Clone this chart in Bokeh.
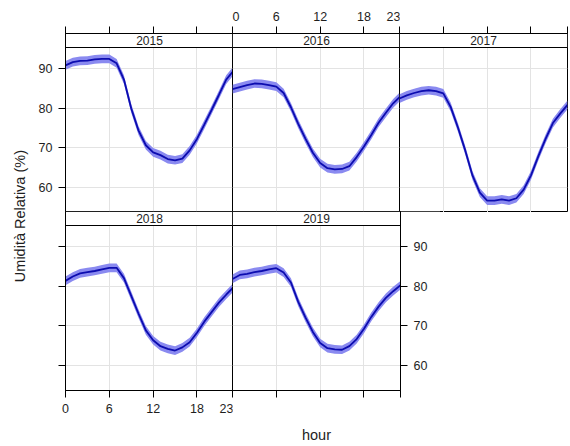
import math

from bokeh.core.properties import value
from bokeh.embed import file_html
from bokeh.layouts import column, row
from bokeh.models import FixedTicker, LinearAxis, Range1d
from bokeh.plotting import figure
from bokeh.resources import INLINE

# Mean relative humidity by hour of day, one panel per year
hours = list(range(24))
years = ["2015", "2016", "2017", "2018", "2019"]

rh_2015 = [90.8, 91.6, 91.9, 92.0, 92.3, 92.4, 92.4, 91.3, 87.2, 79.9, 74.3, 70.6,
           68.8, 68.1, 67.1, 66.8, 67.2, 69.3, 72.2, 75.8, 79.5, 83.3, 87.2, 89.4]
rh_2016 = [84.8, 85.3, 85.8, 86.2, 86.1, 85.8, 85.4, 83.8, 80.2, 76.0, 72.2, 68.7,
           66.1, 64.8, 64.5, 64.6, 65.3, 67.6, 70.3, 73.2, 76.3, 78.8, 81.2, 83.0]
rh_2017 = [82.4, 83.2, 83.8, 84.3, 84.5, 84.3, 83.7, 80.3, 75.1, 69.3, 62.9, 58.6,
           56.6, 56.6, 56.9, 56.6, 57.2, 59.4, 63.0, 67.8, 72.2, 76.2, 78.6, 80.8]
rh_2018 = [81.3, 82.4, 83.2, 83.5, 83.8, 84.2, 84.6, 84.6, 82.0, 77.5, 73.0, 68.8,
           66.3, 64.8, 64.1, 63.7, 64.5, 65.8, 68.2, 71.0, 73.4, 75.8, 77.8, 79.7]
rh_2019 = [81.8, 82.8, 83.1, 83.5, 83.8, 84.2, 84.5, 83.4, 80.9, 76.0, 72.0, 68.4,
           65.6, 64.3, 64.0, 63.9, 64.8, 66.6, 69.2, 72.2, 74.8, 77.0, 78.7, 80.2]

# half width of the confidence band around each mean
band_halfwidth = 1.1

x_ticks = [0, 6, 12, 18, 23]
y_ticks = [60, 70, 80, 90]

FONT = "Liberation Sans"
LINE_COLOR = "#0c0caf"
BAND_COLOR = "#8a8af0"
GRID_COLOR = "#e3e3e3"
TEXT_COLOR = "#1e1e1e"

FRAME_W, FRAME_H = 168, 179
STRIP_PX = 14
Y_LO, Y_HI = 53.6, 95.3
Y_TOP = Y_HI + (Y_HI - Y_LO) * STRIP_PX / (FRAME_H - STRIP_PX)
X_LO, X_HI = 0, 23


def add_axis(p, side, ticks, show_labels, label=None, label_standoff=0):
    if show_labels:
        ax = LinearAxis(ticker=FixedTicker(ticks=ticks))
    else:
        # tick marks only: the positions go in as minor ticks, so no labels are drawn
        ax = LinearAxis(ticker=FixedTicker(ticks=[], minor_ticks=ticks))
    ax.major_tick_out = 7
    ax.major_tick_in = 0
    ax.minor_tick_out = 7 if not show_labels else 0
    ax.minor_tick_in = 0
    ax.axis_line_color = "black"
    ax.major_tick_line_color = "black"
    ax.minor_tick_line_color = "black"
    ax.major_label_text_font = FONT
    ax.major_label_text_color = TEXT_COLOR
    ax.major_label_text_font_size = "12.5px"
    ax.major_label_standoff = 6
    if label is not None:
        ax.axis_label = label
        ax.axis_label_text_font = FONT
        ax.axis_label_text_font_size = "14.5px"
        ax.axis_label_text_font_style = "normal"
        ax.axis_label_text_color = TEXT_COLOR
        ax.axis_label_standoff = label_standoff
    p.add_layout(ax, side)
    return ax


def panel(year, values, left=0, right=0, top=0, bottom=0, margin=(0, 0, 0, 0)):
    p = figure(frame_width=FRAME_W, frame_height=FRAME_H,
               x_range=Range1d(X_LO, X_HI), y_range=Range1d(Y_LO, Y_TOP),
               x_axis_location=None, y_axis_location=None,
               toolbar_location=None, output_backend="svg",
               min_border_left=left, min_border_right=right,
               min_border_top=top, min_border_bottom=bottom,
               margin=margin)
    p.outline_line_color = "black"
    p.outline_line_alpha = 1.0
    p.background_fill_color = "white"
    p.border_fill_color = "white"
    p.xgrid.ticker = FixedTicker(ticks=[6, 12, 18])
    p.ygrid.ticker = FixedTicker(ticks=y_ticks)
    p.grid.grid_line_color = GRID_COLOR
    p.grid.grid_line_width = 1

    lower = [v - band_halfwidth for v in values]
    upper = [v + band_halfwidth for v in values]
    p.varea(x=hours, y1=lower, y2=upper, fill_color=BAND_COLOR, fill_alpha=1.0)
    p.line(hours, values, line_color=LINE_COLOR, line_width=1.8)

    # strip with the year on top of each panel
    p.quad(left=X_LO, right=X_HI, bottom=Y_HI, top=Y_TOP,
           fill_color="white", line_color="black", line_width=1)
    p.text(x=[(X_LO + X_HI) / 2], y=[(Y_HI + Y_TOP) / 2], text=[year],
           text_align="center", text_baseline="middle",
           text_font=value(FONT), text_font_size=value("12px"),
           text_color=TEXT_COLOR)
    return p


# neighbouring panels overlap by one pixel so that shared borders stay single lines
p2015 = panel(years[0], rh_2015, left=33, top=33)
add_axis(p2015, "left", y_ticks, True)
add_axis(p2015, "above", x_ticks, False)

p2016 = panel(years[1], rh_2016, top=33, margin=(0, 0, 0, -1))
add_axis(p2016, "above", x_ticks, True)

p2017 = panel(years[2], rh_2017, top=33, right=2, margin=(0, 0, 0, -1))
add_axis(p2017, "above", x_ticks, False)

p2018 = panel(years[3], rh_2018, left=33, bottom=55, margin=(-1, 0, 0, 0))
add_axis(p2018, "left", y_ticks, False)
add_axis(p2018, "below", x_ticks, True)

p2019 = panel(years[4], rh_2019, right=40, bottom=55, margin=(-1, 0, 0, -1))
add_axis(p2019, "right", y_ticks, True)
add_axis(p2019, "below", x_ticks, False, label="hour", label_standoff=29)

# shared y-axis title spanning both rows
ylab = figure(frame_width=32, frame_height=2 * FRAME_H,
              x_range=Range1d(0, 1), y_range=Range1d(0, 1),
              x_axis_location=None, y_axis_location=None,
              toolbar_location=None, output_backend="svg",
              min_border_left=0, min_border_right=0,
              min_border_top=33, min_border_bottom=55)
ylab.outline_line_color = None
ylab.grid.visible = False
ylab.text(x=[0.62], y=[0.49], text=["Umidità Relativa (%)"], angle=math.pi / 2,
          text_align="center", text_baseline="middle",
          text_font=value(FONT), text_font_size=value("14.5px"),
          text_color=TEXT_COLOR)

layout = row(ylab, column(row(p2015, p2016, p2017), row(p2018, p2019)))

with open("out.html", "w") as f:
    f.write(file_html(layout, INLINE))
